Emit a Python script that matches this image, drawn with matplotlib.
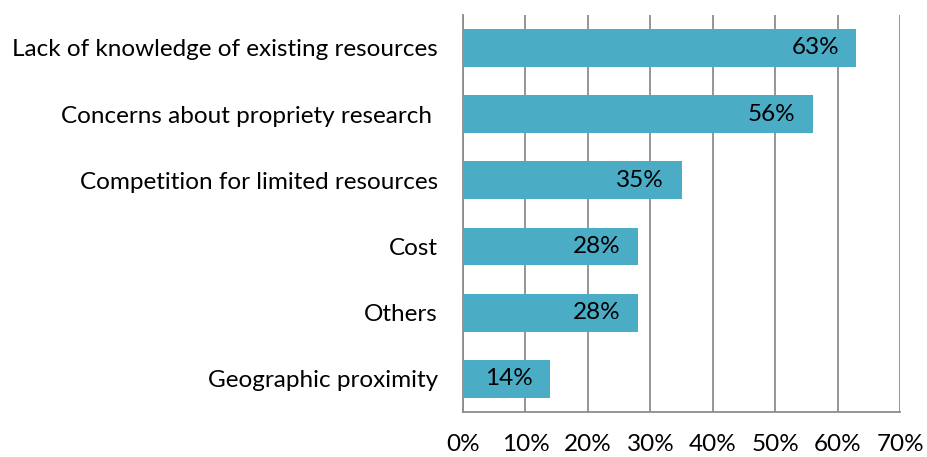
import matplotlib.pyplot as plt

categories = ['Lack of knowledge of existing resources',
              'Concerns about propriety research ',
              'Competition for limited resources',
              'Cost',
              'Others',
              'Geographic proximity']
values = [63, 56, 35, 28, 28, 14]
xticks = [0, 10, 20, 30, 40, 50, 60, 70]

plt.rcParams['font.family'] = ['Lato', 'DejaVu Sans']

fig = plt.figure(figsize=(9.27, 4.57), dpi=100)
ax = fig.add_axes([0.4995, 0.0985, 0.4715, 0.869])

y = list(range(len(categories)))
ax.barh(y, values, height=0.57, color='#4BACC6', zorder=3)

# labels inside the bar end
for yi, v in zip(y, values):
    ax.text(v - 2.8, yi, f'{v}%', ha='right', va='center', fontsize=17.5,
            color='black', zorder=4)

ax.set_ylim(len(categories) - 0.5, -0.5)
ax.set_xlim(0, 70)
ax.set_yticks(y)
ax.set_yticklabels(categories, fontsize=17.5)
ax.set_xticks(xticks)
ax.set_xticklabels([f'{t}%' for t in xticks], fontsize=17.5)

ax.xaxis.grid(True, color='#8c8c8c', linewidth=1.3, zorder=0)
ax.tick_params(axis='y', length=0, pad=18)
ax.tick_params(axis='x', length=0, pad=16)
for s in ['top', 'right']:
    ax.spines[s].set_visible(False)
ax.spines['left'].set_color('#8c8c8c')
ax.spines['bottom'].set_color('#8c8c8c')
ax.spines['left'].set_linewidth(1.3)
ax.spines['bottom'].set_linewidth(1.3)

fig.savefig('out.png', dpi=100)
